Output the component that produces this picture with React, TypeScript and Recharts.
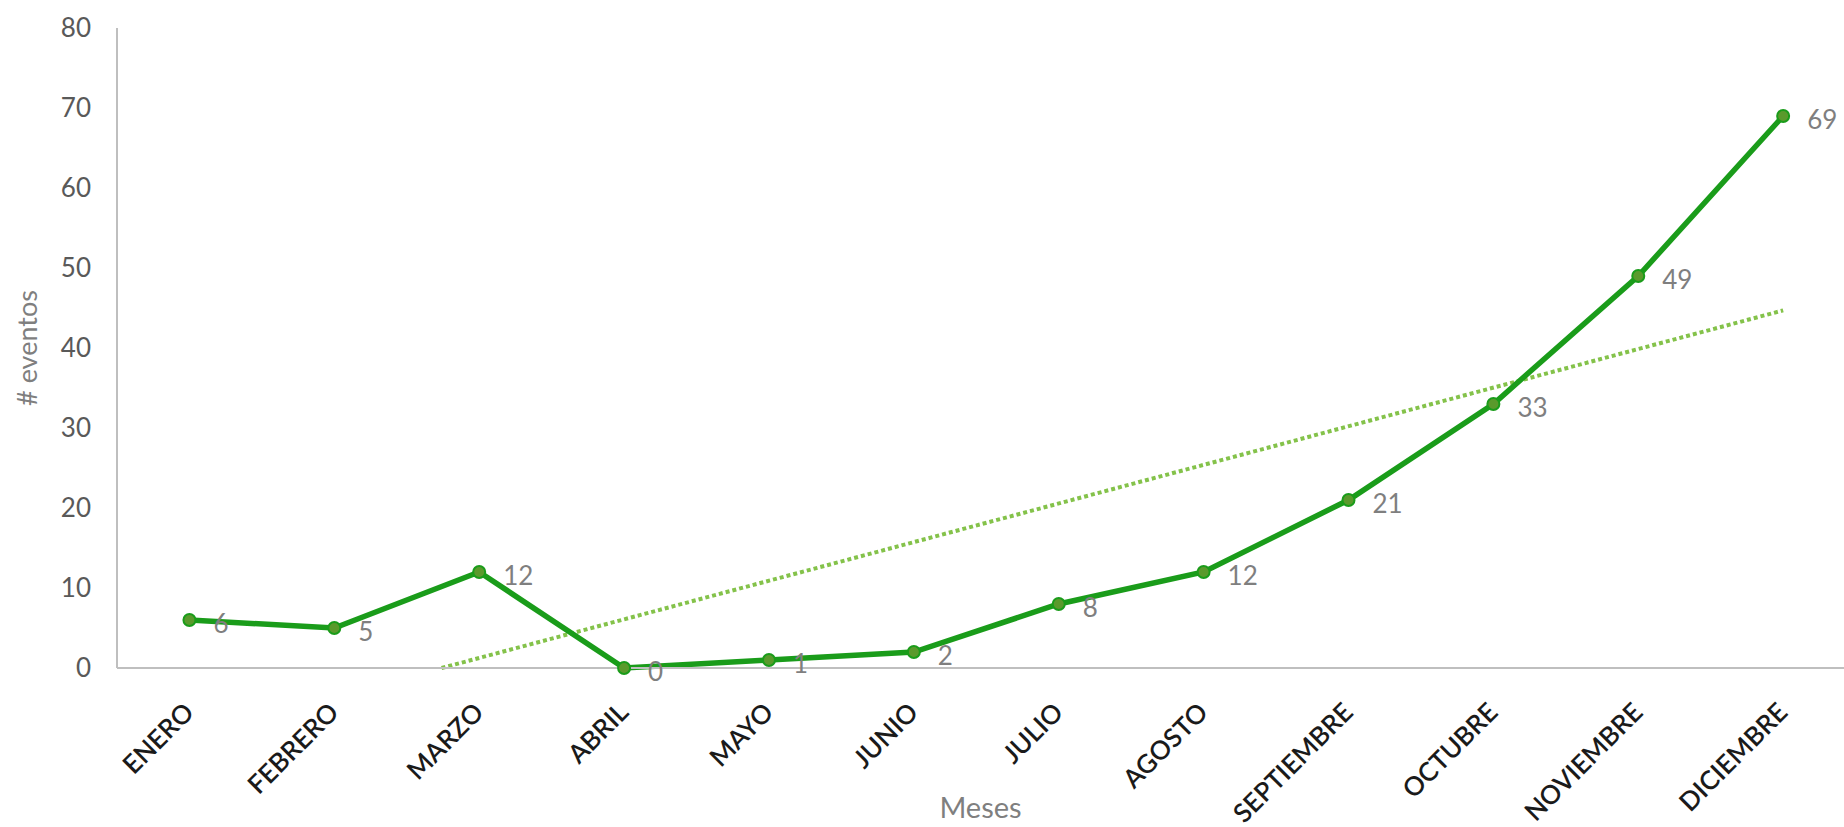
import { Line, LineChart, XAxis, YAxis } from "recharts";

const months = [
  "ENERO",
  "FEBRERO",
  "MARZO",
  "ABRIL",
  "MAYO",
  "JUNIO",
  "JULIO",
  "AGOSTO",
  "SEPTIEMBRE",
  "OCTUBRE",
  "NOVIEMBRE",
  "DICIEMBRE",
];
const eventos = [6, 5, 12, 0, 1, 2, 8, 12, 21, 33, 49, 69];

// linear trend (starts at the 0 line just before MARZO)
const trendX = [2.74, 12];
const trendY = [0, 44.7];

const yTicks = [0, 10, 20, 30, 40, 50, 60, 70, 80];

const data = months.map((m, i) => ({ x: i + 1, month: m, eventos: eventos[i] }));
const trendData = trendX.map((x, i) => ({ x, trend: trendY[i] }));

const FONT = "Lato, 'Open Sans', sans-serif";

function MonthTick(props: any) {
  const { x, y, payload } = props;
  const label = months[payload.value - 1] ?? "";
  return (
    <text
      transform={`translate(${x + 6},${y + 46}) rotate(-45)`}
      textAnchor="end"
      fontSize={26}
      fontWeight={600}
      fill="#1a1a1a"
      fontFamily={FONT}
    >
      {label}
    </text>
  );
}

function ValueLabel(props: any) {
  const { x, y, value } = props;
  return (
    <text
      x={x + 24}
      y={y + 3}
      dominantBaseline="central"
      fontSize={26}
      fill="#7f7f7f"
      fontFamily={FONT}
    >
      {value}
    </text>
  );
}

export default function App() {
  return (
    <div
      style={{
        position: "absolute",
        left: 0,
        top: 0,
        width: 1844,
        height: 827,
        overflow: "hidden",
        background: "#fff",
        fontFamily: FONT,
      }}
    >
      <LineChart
        width={1844}
        height={827}
        data={data}
        margin={{ top: 28, right: 0, left: 0, bottom: 0 }}
      >
        <XAxis
          type="number"
          dataKey="x"
          domain={[0.5, 12.42]}
          ticks={[1, 2, 3, 4, 5, 6, 7, 8, 9, 10, 11, 12]}
          allowDataOverflow
          height={159}
          tickLine={false}
          tickSize={0}
          tickMargin={0}
          axisLine={{ stroke: "#bfbfbf", strokeWidth: 2 }}
          tick={<MonthTick />}
          label={(p: any) => {
            const vb = p.viewBox;
            return (
              <text
                x={vb.x + vb.width / 2}
                y={806}
                textAnchor="middle"
                dominantBaseline="central"
                fontSize={29}
                fill="#7f7f7f"
                fontFamily={FONT}
              >
                Meses
              </text>
            );
          }}
        />
        <YAxis
          domain={[0, 80]}
          ticks={yTicks}
          width={117}
          tickLine={false}
          tickSize={0}
          tickMargin={26}
          axisLine={{ stroke: "#bfbfbf", strokeWidth: 2 }}
          tick={{ fontSize: 26, fill: "#595959", fontFamily: FONT }}
          label={(p: any) => {
            const vb = p.viewBox;
            const cy = vb.y + vb.height / 2;
            return (
              <text
                x={26}
                y={cy}
                transform={`rotate(-90, 26, ${cy})`}
                textAnchor="middle"
                dominantBaseline="central"
                fontSize={27}
                fill="#7f7f7f"
                fontFamily={FONT}
              >
                # eventos
              </text>
            );
          }}
        />
        <Line
          data={trendData}
          dataKey="trend"
          type="linear"
          stroke="#84c24a"
          strokeWidth={4}
          strokeDasharray="4 3"
          dot={false}
          isAnimationActive={false}
        />
        <Line
          dataKey="eventos"
          type="linear"
          stroke="#1a9c1a"
          strokeWidth={5.5}
          dot={{ r: 6, fill: "#5a9a2c", stroke: "#1a9c1a", strokeWidth: 2 }}
          label={<ValueLabel />}
          isAnimationActive={false}
        />
      </LineChart>
    </div>
  );
}
